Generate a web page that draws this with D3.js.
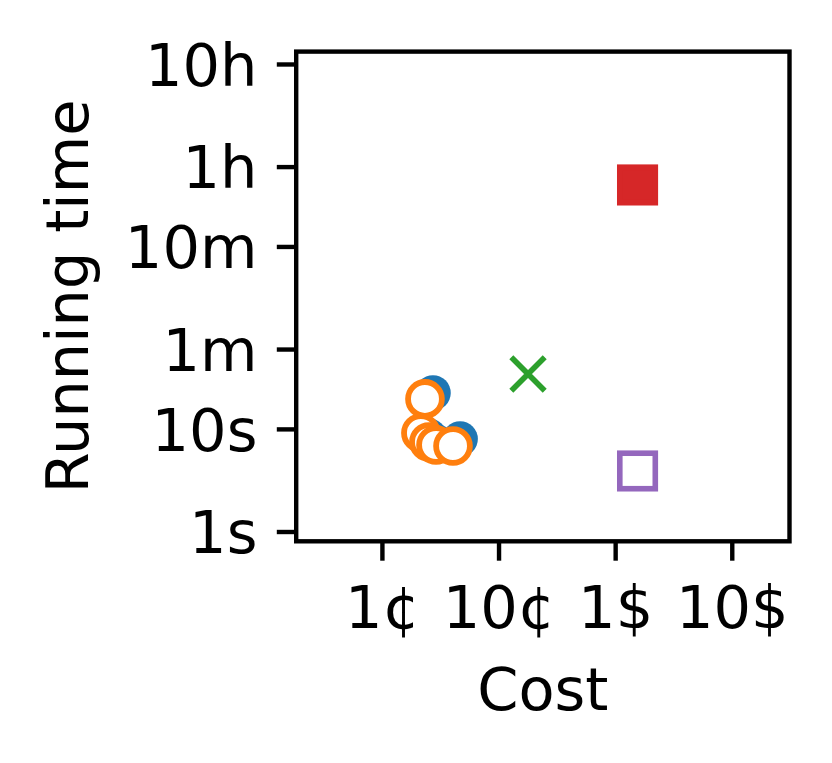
<!DOCTYPE html>
<html>
<head>
<meta charset="utf-8">
<script src="https://cdn.jsdelivr.net/npm/d3@7"></script>
<style>
html,body{margin:0;padding:0;background:#fff;}
svg{display:block;font-family:"DejaVu Sans",sans-serif;}
</style>
</head>
<body>
<svg id="chart" width="832" height="763"></svg>
<script>
// ---- data ----
const xTickValues = [0.01, 0.1, 1, 10];
const xTickLabels = ["1¢", "10¢", "1$", "10$"];
const yTickValues = [1, 10, 60, 600, 3600, 36000];
const yTickLabels = ["1s", "10s", "1m", "10m", "1h", "10h"];
const xLimits = [Math.pow(10, -2.735), Math.pow(10, 1.495)];
const yLimits = [Math.pow(10, -0.0955), Math.pow(10, 4.677)];

const blueCost = [0.0274, 0.0468, 0.0253, 0.0291];
const blueTime = [22.4, 7.97, 8.5, 7.5];
const orangeCost = [0.0234, 0.0216, 0.0253, 0.0291, 0.0407];
const orangeTime = [19.6, 9.12, 7.45, 6.97, 6.81];
const greenCost = [0.179];
const greenTime = [34.3];
const redCost = [1.556];
const redTime = [2384];
const purpleCost = [1.556];
const purpleTime = [3.89];

// ---- layout ----
const svg = d3.select("#chart");
const L = 296.2, R = 789.5, T = 51.6, B = 541.3;
const x = d3.scaleLog().domain(xLimits).range([L, R]);
const y = d3.scaleLog().domain(yLimits).range([B, T]);
const lw = 4.4, tickLen = 19.4, pad = 19.4, fs = 59;

// markers
const g = svg.append("g");
const zip = (a, b) => a.map((v, i) => [v, b[i]]);

g.selectAll("circle.blue").data(zip(blueCost, blueTime)).join("circle")
  .attr("class", "blue")
  .attr("cx", d => x(d[0])).attr("cy", d => y(d[1]))
  .attr("r", 17.8).attr("fill", "#1f77b4");

g.selectAll("circle.orange").data(zip(orangeCost, orangeTime)).join("circle")
  .attr("class", "orange")
  .attr("cx", d => x(d[0])).attr("cy", d => y(d[1]))
  .attr("r", 16.9).attr("fill", "#fff")
  .attr("stroke", "#ff7f0e").attr("stroke-width", 5.8);

const xs = 16.7;
zip(greenCost, greenTime).forEach(d => {
  const cx = x(d[0]), cy = y(d[1]);
  g.append("path")
    .attr("d", `M${cx - xs},${cy - xs}L${cx + xs},${cy + xs}M${cx - xs},${cy + xs}L${cx + xs},${cy - xs}`)
    .attr("stroke", "#2ca02c").attr("stroke-width", 5.6).attr("fill", "none");
});

const sq = 35.5;
g.selectAll("rect.red").data(zip(redCost, redTime)).join("rect")
  .attr("x", d => x(d[0]) - sq / 2).attr("y", d => y(d[1]) - sq / 2)
  .attr("width", sq).attr("height", sq)
  .attr("fill", "#d62728").attr("stroke", "#d62728").attr("stroke-width", 5.6);

g.selectAll("rect.purple").data(zip(purpleCost, purpleTime)).join("rect")
  .attr("x", d => x(d[0]) - sq / 2).attr("y", d => y(d[1]) - sq / 2)
  .attr("width", sq).attr("height", sq)
  .attr("fill", "#fff").attr("stroke", "#9467bd").attr("stroke-width", 5.6);

// axes
const xAxis = d3.axisBottom(x).tickValues(xTickValues)
  .tickFormat((d, i) => xTickLabels[i]).tickSize(tickLen).tickPadding(pad);
const yAxis = d3.axisLeft(y).tickValues(yTickValues)
  .tickFormat((d, i) => yTickLabels[i]).tickSize(tickLen).tickPadding(pad);

const gx = svg.append("g").attr("transform", `translate(0,${B})`).call(xAxis);
const gy = svg.append("g").attr("transform", `translate(${L},0)`).call(yAxis);
[gx, gy].forEach(a => {
  a.select(".domain").remove();
  a.selectAll(".tick line").attr("stroke", "#000").attr("stroke-width", lw);
  a.selectAll(".tick text").attr("fill", "#000")
    .style("font-family", "'DejaVu Sans', sans-serif").style("font-size", fs + "px");
});
gx.selectAll(".tick text").attr("dy", null).attr("y", 628 - B);
gy.selectAll(".tick text").attr("dy", "0.36em");

// frame
svg.append("rect").attr("x", L).attr("y", T).attr("width", R - L).attr("height", B - T)
  .attr("fill", "none").attr("stroke", "#000").attr("stroke-width", lw)
  .attr("stroke-linejoin", "miter");

// labels
svg.append("text").attr("x", (L + R) / 2).attr("y", 710)
  .attr("text-anchor", "middle").style("font-size", fs + "px").text("Cost");
svg.append("text").attr("transform", `translate(88,${(T + B) / 2}) rotate(-90)`)
  .attr("text-anchor", "middle").style("font-size", fs + "px").text("Running time");
</script>
</body>
</html>
